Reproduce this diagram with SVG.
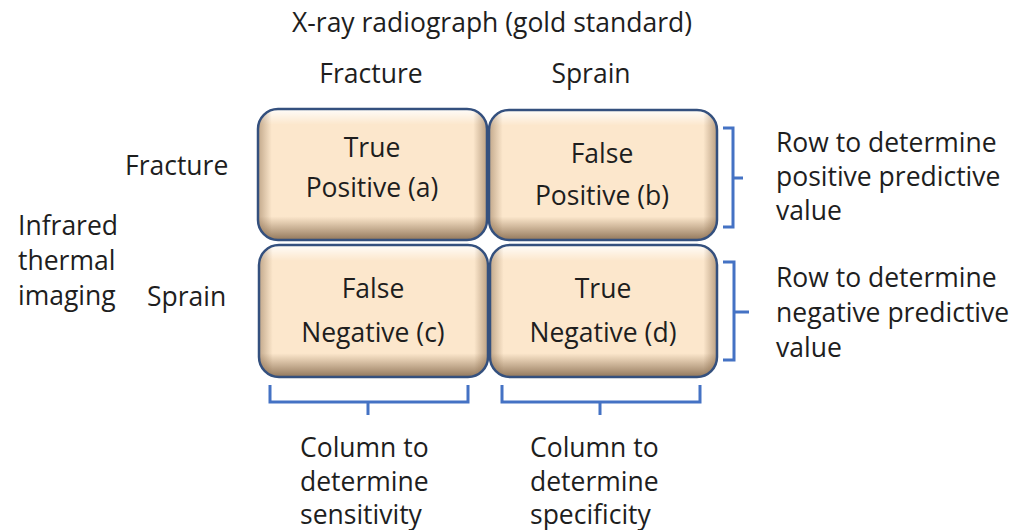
<svg xmlns="http://www.w3.org/2000/svg" width="1030" height="530" viewBox="0 0 1030 530">
<style>
text{font-family:"Open Sans","Liberation Sans",sans-serif;font-size:26.5px;fill:#1e1e1e}
.c{text-anchor:middle}
.box{fill:#fce7cc}
.vg{fill:url(#vg)}
.hg{fill:url(#hg)}
.bd{fill:none;stroke:#34507e;stroke-width:2.5}
.br{fill:none;stroke:#4472c4;stroke-width:3}
</style>
<defs>
<linearGradient id="vg" x1="0" y1="0" x2="0" y2="1">
<stop offset="0" stop-color="#ffffff" stop-opacity="0.9"/>
<stop offset="0.12" stop-color="#ffffff" stop-opacity="0"/>
<stop offset="0.82" stop-color="#7a5a3a" stop-opacity="0"/>
<stop offset="1" stop-color="#6e5236" stop-opacity="0.75"/>
</linearGradient>
<linearGradient id="hg" x1="0" y1="0" x2="1" y2="0">
<stop offset="0" stop-color="#7a5a3a" stop-opacity="0.45"/>
<stop offset="0.06" stop-color="#7a5a3a" stop-opacity="0"/>
<stop offset="0.94" stop-color="#7a5a3a" stop-opacity="0"/>
<stop offset="1" stop-color="#7a5a3a" stop-opacity="0.5"/>
</linearGradient>
</defs>

<g id="title">
<text class="c" x="492" y="32">X-ray radiograph (gold standard)</text>
<text class="c" x="371" y="83">Fracture</text>
<text class="c" x="591" y="83">Sprain</text>
</g>
<g id="row-labels">
<text x="125" y="175">Fracture</text>
<text x="147" y="306">Sprain</text>
<text x="18" y="235">Infrared</text>
<text x="18" y="270">thermal</text>
<text x="18" y="305">imaging</text>
</g>

<g id="tp">
<rect class="box" x="258" y="109" width="229" height="131" rx="20"/>
<rect class="vg" x="258" y="109" width="229" height="131" rx="20"/>
<rect class="hg" x="258" y="109" width="229" height="131" rx="20"/>
<rect class="bd" x="258" y="109" width="229" height="131" rx="20"/>
<text class="c" x="372" y="157">True</text>
<text class="c" x="372" y="197">Positive (a)</text>
</g>
<g id="fp">
<rect class="box" x="489" y="110" width="228" height="130" rx="20"/>
<rect class="vg" x="489" y="110" width="228" height="130" rx="20"/>
<rect class="hg" x="489" y="110" width="228" height="130" rx="20"/>
<rect class="bd" x="489" y="110" width="228" height="130" rx="20"/>
<text class="c" x="602" y="163">False</text>
<text class="c" x="602" y="205">Positive (b)</text>
</g>
<g id="fn">
<rect class="box" x="259" y="245" width="229" height="132" rx="20"/>
<rect class="vg" x="259" y="245" width="229" height="132" rx="20"/>
<rect class="hg" x="259" y="245" width="229" height="132" rx="20"/>
<rect class="bd" x="259" y="245" width="229" height="132" rx="20"/>
<text class="c" x="373" y="298">False</text>
<text class="c" x="373" y="342">Negative (c)</text>
</g>
<g id="tn">
<rect class="box" x="490" y="245" width="227" height="132" rx="20"/>
<rect class="vg" x="490" y="245" width="227" height="132" rx="20"/>
<rect class="hg" x="490" y="245" width="227" height="132" rx="20"/>
<rect class="bd" x="490" y="245" width="227" height="132" rx="20"/>
<text class="c" x="603" y="298">True</text>
<text class="c" x="603" y="342">Negative (d)</text>
</g>

<g id="connectors">
<path class="br" d="M723 128 H733 V227 H723 M733 178 H743"/>
<path class="br" d="M723 262 H734 V360 H723 M734 312 H749"/>
<path class="br" d="M270 385 V402 H468 V385 M368 402 V415"/>
<path class="br" d="M502 385 V402 H700 V385 M600 402 V415"/>
</g>

<g id="row-notes">
<text x="776" y="152">Row to determine</text>
<text x="776" y="186">positive predictive</text>
<text x="776" y="220">value</text>
<text x="776" y="287">Row to determine</text>
<text x="776" y="322">negative predictive</text>
<text x="776" y="357">value</text>
</g>
<g id="col-notes">
<text x="300" y="457">Column to</text>
<text x="300" y="491">determine</text>
<text x="300" y="524">sensitivity</text>
<text x="530" y="457">Column to</text>
<text x="530" y="491">determine</text>
<text x="530" y="524">specificity</text>
</g>
</svg>
